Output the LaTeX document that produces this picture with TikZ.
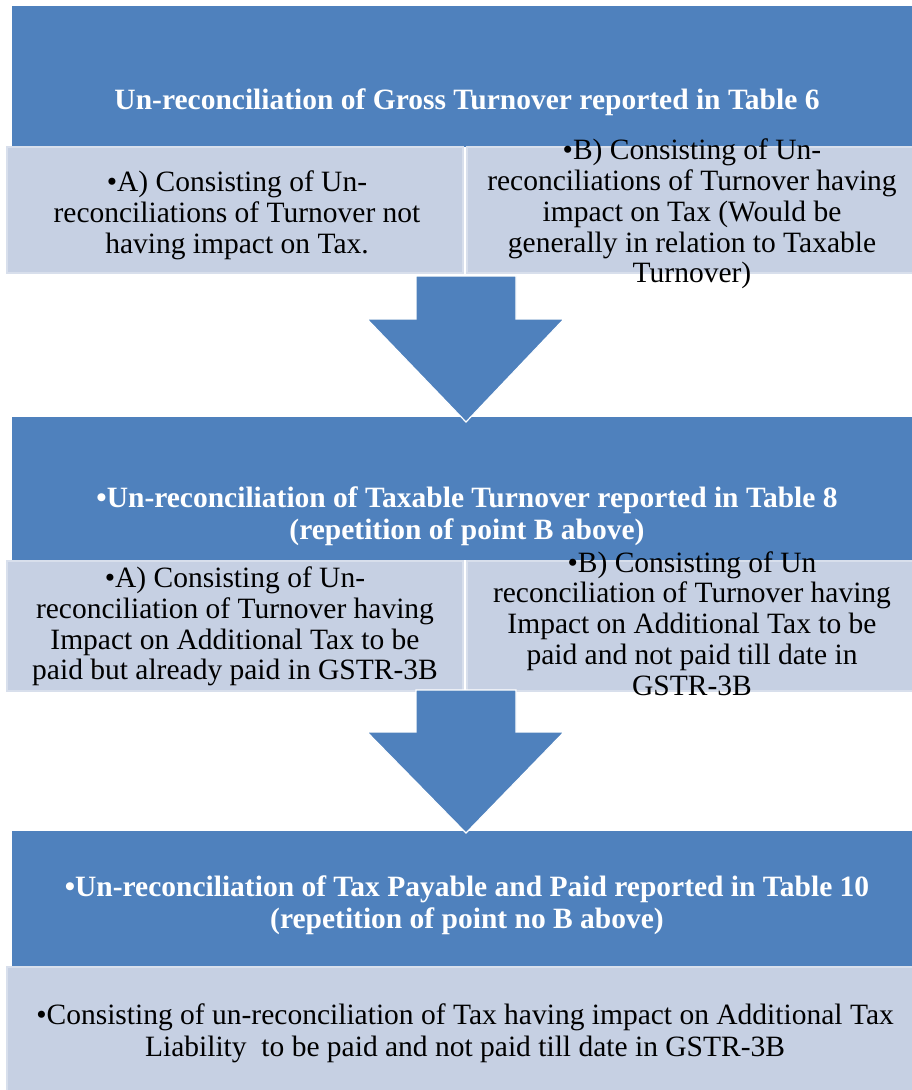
\documentclass[tikz,border=0pt]{standalone}
\usepackage{fontspec}
\setmainfont{Liberation Serif}
\usetikzlibrary{calc}
\definecolor{darkblue}{HTML}{4F81BD}
\definecolor{lightblue}{HTML}{C6D0E3}
\definecolor{lightedge}{HTML}{D8DFEC}
\tikzset{
  darkbox/.style={rectangle, fill=darkblue, inner sep=0pt, outer sep=0pt, anchor=north west},
  lightbox/.style={rectangle, fill=lightblue, draw=lightedge, line width=1.2pt, inner sep=0pt, outer sep=0pt, anchor=north west},
  titletext/.style={text=white, align=center, inner sep=0pt, font=\fontsize{29.5}{32.5}\selectfont\bfseries},
  bodytext/.style={text=black, align=center, inner sep=0pt, font=\fontsize{29.5}{30.8}\selectfont},
  blockarrow/.style={fill=darkblue, draw=white, line width=1.2pt, line join=miter}
}
\begin{document}
\begin{tikzpicture}[x=1pt,y=-1pt]
\useasboundingbox (0,0) rectangle (912,1090);
% level 1
\node[darkbox, minimum width=900pt, minimum height=141pt] (d1) at (12,6) {};
\node[lightbox, minimum width=456pt, minimum height=126pt] (l1a) at (7,147) {};
\node[lightbox, minimum width=446pt, minimum height=126pt] (l1b) at (467,147) {};
\node[titletext] (t1) at (467,102) {Un-reconciliation of Gross Turnover reported in Table 6};
\node[bodytext] (x1a) at (237,215) {•A) Consisting of Un-\\reconciliations of Turnover not\\having impact on Tax.};
\node[bodytext] (x1b) at (692,214) {•B) Consisting of Un-\\reconciliations of Turnover having\\impact on Tax (Would be\\generally in relation to Taxable\\Turnover)};
% arrow 1
\coordinate (a1top) at (466,276);
\coordinate (a1tip) at (466,422);
% level 2
\node[darkbox, minimum width=900pt, minimum height=143pt] (d2) at (12,417) {};
\fill[blockarrow] ($(a1top)+(-50,0)$) -- ++(100,0) -- ++(0,43) -- ++(48,0) -- (a1tip) -- ++(-99,-103) -- ++(49,0) -- cycle;
\node[lightbox, minimum width=456pt, minimum height=130pt] (l2a) at (7,561) {};
\node[lightbox, minimum width=446pt, minimum height=130pt] (l2b) at (467,561) {};
\node[titletext] (t2) at (467,516) {•Un-reconciliation of Taxable Turnover reported in Table 8\\(repetition of point B above)};
\node[bodytext] (x2a) at (235,626.5) {•A) Consisting of Un-\\reconciliation of Turnover having\\Impact on Additional Tax to be\\paid but already paid in GSTR-3B};
\node[bodytext] (x2b) at (692,623.5) {•B) Consisting of Un\\reconciliation of Turnover having\\Impact on Additional Tax to be\\paid and not paid till date in\\GSTR-3B};
% arrow 2
\coordinate (a2top) at (466,690);
\coordinate (a2tip) at (466,833);
% level 3
\node[darkbox, minimum width=900pt, minimum height=136pt] (d3) at (12,831) {};
\fill[blockarrow] ($(a2top)+(-50,0)$) -- ++(100,0) -- ++(0,42) -- ++(48,0) -- (a2tip) -- ++(-99,-101) -- ++(49,0) -- cycle;
\node[lightbox, minimum width=906pt, minimum height=125pt] (l3) at (7,967) {};
\node[titletext] (t3) at (467,905) {•Un-reconciliation of Tax Payable and Paid reported in Table 10\\(repetition of point no B above)};
\node[bodytext, font=\fontsize{29.5}{32}\selectfont] (x3) at (465,1033) {•Consisting of un-reconciliation of Tax having impact on Additional Tax\\Liability\ \ to be paid and not paid till date in GSTR-3B};
\end{tikzpicture}
\end{document}
